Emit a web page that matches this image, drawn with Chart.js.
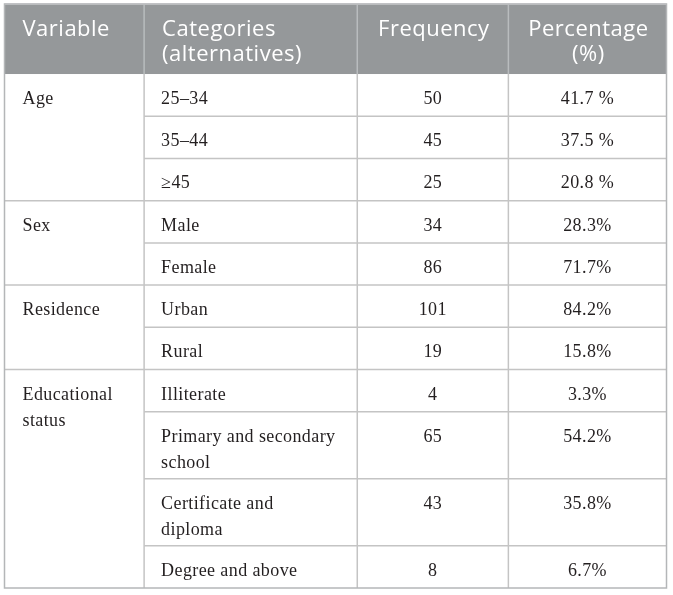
<!DOCTYPE html>
<html>
<head>
<meta charset="utf-8">
<script src="https://cdn.jsdelivr.net/npm/chart.js@4.4.1/dist/chart.umd.min.js"></script>
<style>
  html, body { margin: 0; padding: 0; background: #ffffff; }
  #wrap { width: 673px; height: 595px; position: relative; }
</style>
</head>
<body>
<div id="wrap"><canvas id="c" width="673" height="595"></canvas></div>
<script>
// ---- Data ----
const headers = ['Variable', 'Categories\n(alternatives)', 'Frequency', 'Percentage\n(%)'];
const variables = ['Age', 'Sex', 'Residence', 'Educational\nstatus'];
const groupSizes = [3, 2, 2, 4];
const categories = ['25–34', '35–44', '≥45', 'Male', 'Female', 'Urban', 'Rural', 'Illiterate',
  'Primary and secondary\nschool', 'Certificate and\ndiploma', 'Degree and above'];
const frequencies = [50, 45, 25, 34, 86, 101, 19, 4, 65, 43, 8];
const percentages = ['41.7 %', '37.5 %', '20.8 %', '28.3%', '71.7%', '84.2%', '15.8%', '3.3%',
  '54.2%', '35.8%', '6.7%'];

// ---- Layout (scale units) ----
const colWidths = [139.5, 213, 151, 158];
const headerUnits = 70;
const lineRowUnits = { 1: 42.2, 2: 67 };

const colEdges = [0];
colWidths.forEach(w => colEdges.push(colEdges[colEdges.length - 1] + w));
const rowEdges = [headerUnits];
categories.forEach(c => {
  const n = c.split('\n').length;
  rowEdges.push(rowEdges[rowEdges.length - 1] + lineRowUnits[n]);
});
const totalUnits = rowEdges[rowEdges.length - 1];
const groupStart = [];
{ let s = 0; groupSizes.forEach(g => { groupStart.push(s); s += g; }); }

const HEADER_FONT = '400 22px "Open Sans", "Noto Sans", sans-serif';
const BODY_FONT = '400 18px "Liberation Serif", "Times New Roman", serif';

const tablePlugin = {
  id: 'tablePlugin',
  beforeDraw(chart) {
    const ctx = chart.ctx;
    ctx.save();
    ctx.fillStyle = '#ffffff';
    ctx.fillRect(0, 0, chart.width, chart.height);
    ctx.restore();
  },
  afterDraw(chart) {
    const ctx = chart.ctx;
    const xs = chart.scales.x, ys = chart.scales.y;
    const X = v => xs.getPixelForValue(v);
    const Y = v => ys.getPixelForValue(v);
    const left = X(0), right = X(colEdges[colEdges.length - 1]);
    const top = Y(0), bottom = Y(totalUnits);
    ctx.save();

    // header background
    ctx.fillStyle = '#95989a';
    ctx.fillRect(left, top, right - left, Y(headerUnits) - top);

    // header vertical separators
    ctx.strokeStyle = '#b9bcbe';
    ctx.lineWidth = 1.5;
    for (let i = 1; i < colEdges.length - 1; i++) {
      ctx.beginPath();
      ctx.moveTo(X(colEdges[i]), top);
      ctx.lineTo(X(colEdges[i]), Y(headerUnits));
      ctx.stroke();
    }

    // body grid
    ctx.strokeStyle = '#c4c4c4';
    ctx.lineWidth = 1.5;
    for (let i = 1; i < colEdges.length - 1; i++) {
      ctx.beginPath();
      ctx.moveTo(X(colEdges[i]), Y(headerUnits));
      ctx.lineTo(X(colEdges[i]), bottom);
      ctx.stroke();
    }
    for (let r = 1; r < categories.length; r++) {
      const isGroup = groupStart.includes(r);
      const x0 = isGroup ? left : X(colEdges[1]);
      ctx.beginPath();
      ctx.moveTo(x0, Y(rowEdges[r]));
      ctx.lineTo(right, Y(rowEdges[r]));
      ctx.stroke();
    }

    // outer border
    ctx.strokeStyle = '#b4b6b8';
    ctx.lineWidth = 1.5;
    ctx.strokeRect(left, top, right - left, bottom - top);
    ctx.strokeStyle = '#bfc1c3';
    ctx.beginPath();
    ctx.moveTo(left, top); ctx.lineTo(right, top);
    ctx.stroke();

    // header text
    ctx.font = HEADER_FONT;
    ctx.letterSpacing = '0.5px';
    ctx.fillStyle = '#ffffff';
    ctx.textBaseline = 'alphabetic';
    headers.forEach((h, i) => {
      const lines = h.split('\n');
      lines.forEach((ln, k) => {
        const y = Y(32 + k * 24.5);
        if (i <= 1) {
          ctx.textAlign = 'left';
          ctx.fillText(ln, X(colEdges[i]) + 18, y);
        } else {
          ctx.textAlign = 'center';
          ctx.fillText(ln, X((colEdges[i] + colEdges[i + 1]) / 2) + 1, y);
        }
      });
    });

    // body text
    ctx.font = BODY_FONT;
    ctx.letterSpacing = '0.4px';
    ctx.fillStyle = '#231f20';
    const lineGap = 26;
    variables.forEach((v, g) => {
      const r = groupStart[g];
      v.split('\n').forEach((ln, k) => {
        ctx.textAlign = 'left';
        ctx.fillText(ln, X(colEdges[0]) + 18, Y(rowEdges[r] + 30) + k * lineGap);
      });
    });
    categories.forEach((c, r) => {
      const yb = Y(rowEdges[r] + 30);
      c.split('\n').forEach((ln, k) => {
        ctx.textAlign = 'left';
        ctx.fillText(ln, X(colEdges[1]) + 17, yb + k * lineGap);
      });
      ctx.textAlign = 'center';
      ctx.fillText(String(frequencies[r]), X((colEdges[2] + colEdges[3]) / 2), yb);
      ctx.fillText(percentages[r], X((colEdges[3] + colEdges[4]) / 2), yb);
    });
    ctx.restore();
  }
};

new Chart(document.getElementById('c'), {
  type: 'scatter',
  data: { datasets: [{ data: [], pointRadius: 0 }] },
  options: {
    responsive: false,
    animation: false,
    devicePixelRatio: 1,
    layout: { padding: { left: 4.5, top: 4, right: 6.5, bottom: 7 } },
    plugins: { legend: { display: false }, tooltip: { enabled: false } },
    scales: {
      x: { type: 'linear', display: false, min: 0, max: colEdges[colEdges.length - 1] },
      y: { type: 'linear', display: false, min: 0, max: totalUnits, reverse: true }
    }
  },
  plugins: [tablePlugin]
});
</script>
</body>
</html>
